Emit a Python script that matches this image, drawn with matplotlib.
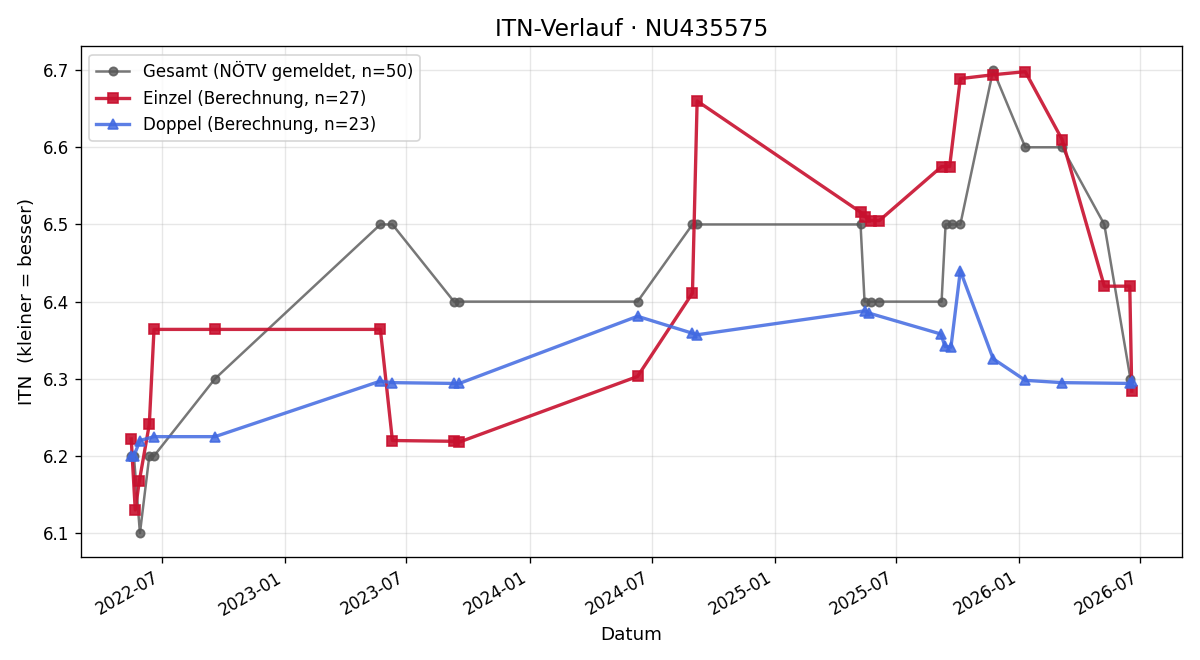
import matplotlib
matplotlib.use("Agg")
import matplotlib.pyplot as plt
import matplotlib.dates as mdates
import pandas as pd

gesamt_dates = ["2022-05-16", "2022-05-20", "2022-05-29", "2022-06-12", "2022-06-19",
                "2022-09-18", "2023-05-23", "2023-06-10", "2023-09-10", "2023-09-18",
                "2024-06-10", "2024-08-31", "2024-09-07", "2025-05-09", "2025-05-15",
                "2025-05-24", "2025-06-06", "2025-09-07", "2025-09-13", "2025-09-22",
                "2025-10-05", "2025-11-23", "2026-01-10", "2026-03-06", "2026-05-08",
                "2026-06-16"]
gesamt_vals = [6.2, 6.2, 6.1, 6.2, 6.2,
               6.3, 6.5, 6.5, 6.4, 6.4,
               6.4, 6.5, 6.5, 6.5, 6.4,
               6.4, 6.4, 6.4, 6.5, 6.5,
               6.5, 6.7, 6.6, 6.6, 6.5,
               6.3]

einzel_dates = ["2022-05-16", "2022-05-22", "2022-05-28", "2022-06-12", "2022-06-19",
                "2022-09-18", "2023-05-23", "2023-06-10", "2023-09-10", "2023-09-18",
                "2024-06-10", "2024-08-31", "2024-09-07", "2025-05-09", "2025-05-16",
                "2025-05-24", "2025-06-06", "2025-09-07", "2025-09-19", "2025-10-05",
                "2025-11-23", "2026-01-10", "2026-03-06", "2026-05-08", "2026-06-15",
                "2026-06-18"]
einzel_vals = [6.222, 6.130, 6.167, 6.241, 6.364,
               6.364, 6.364, 6.220, 6.219, 6.218,
               6.303, 6.411, 6.660, 6.516, 6.510,
               6.505, 6.505, 6.575, 6.575, 6.689,
               6.694, 6.698, 6.610, 6.420, 6.420,
               6.284]

doppel_dates = ["2022-05-16", "2022-05-20", "2022-05-29", "2022-06-19", "2022-09-18",
                "2023-05-23", "2023-06-10", "2023-09-10", "2023-09-18", "2024-06-10",
                "2024-08-31", "2024-09-07", "2025-05-15", "2025-05-22", "2025-09-06",
                "2025-09-12", "2025-09-21", "2025-10-05", "2025-11-23", "2026-01-10",
                "2026-03-06", "2026-06-15", "2026-06-18"]
doppel_vals = [6.200, 6.200, 6.220, 6.225, 6.225,
               6.297, 6.295, 6.294, 6.294, 6.381,
               6.359, 6.357, 6.388, 6.385, 6.358,
               6.342, 6.341, 6.440, 6.326, 6.298,
               6.295, 6.294, 6.297]

fig, ax = plt.subplots(figsize=(10, 5.5), dpi=120)
fig.subplots_adjust(left=0.0675, right=0.985, top=0.93, bottom=0.156)

ax.plot(pd.to_datetime(gesamt_dates), gesamt_vals, marker="o", color="#555555",
        lw=1.5, ms=5, alpha=0.8, label="Gesamt (NÖTV gemeldet, n=50)", zorder=2)
ax.plot(pd.to_datetime(einzel_dates), einzel_vals, marker="s", color="#C8102E",
        lw=2, ms=6, alpha=0.9, label="Einzel (Berechnung, n=27)", zorder=3)
ax.plot(pd.to_datetime(doppel_dates), doppel_vals, marker="^", color="#4169E1",
        lw=2, ms=6, alpha=0.85, label="Doppel (Berechnung, n=23)", zorder=3)

ax.set_title("ITN-Verlauf · NU435575", fontsize=14)
ax.set_xlabel("Datum", fontsize=11)
ax.set_ylabel("ITN  (kleiner = besser)", fontsize=11)
ax.grid(True, alpha=0.3)
ax.set_ylim(6.069, 6.731)
ax.set_xlim(pd.Timestamp("2022-03-02"), pd.Timestamp("2026-09-01"))
ax.xaxis.set_major_locator(mdates.MonthLocator(bymonth=[1, 7]))
ax.xaxis.set_major_formatter(mdates.DateFormatter("%Y-%m"))
ax.tick_params(labelsize=10)
for lbl in ax.get_xticklabels():
    lbl.set_rotation(30)
    lbl.set_ha("right")
ax.legend(loc="upper left", fontsize=10)

fig.savefig("out.png")
